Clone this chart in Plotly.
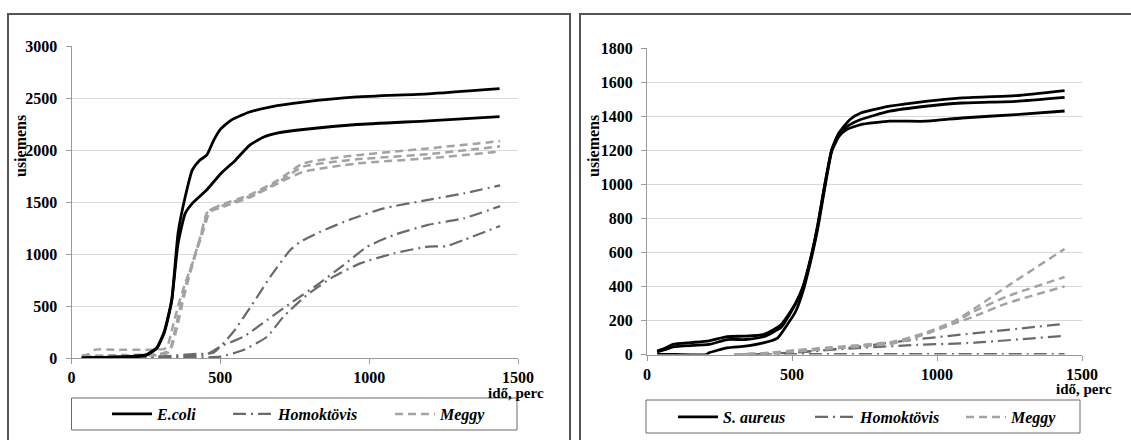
import plotly.graph_objects as go

W, H = 1131, 440

# ---------------- Left panel data (E.coli) ----------------
ecoli1_x = [34, 100, 200, 250, 262, 286, 310, 322, 337, 358, 382, 406, 430, 454, 478, 502, 538, 598, 670, 778, 958, 1198, 1438]
ecoli1_y = [0, 5, 15, 30, 48, 96, 240, 368, 560, 1200, 1550, 1810, 1900, 1950, 2095, 2205, 2290, 2365, 2415, 2460, 2510, 2540, 2590]
ecoli2_x = [34, 100, 200, 250, 262, 286, 310, 322, 337, 358, 382, 406, 454, 502, 550, 598, 646, 694, 778, 958, 1198, 1438]
ecoli2_y = [0, 5, 12, 25, 45, 90, 230, 355, 560, 1100, 1390, 1487, 1615, 1775, 1900, 2045, 2125, 2165, 2197, 2245, 2280, 2320]

homL1_x = [40, 150, 330, 420, 477, 544, 606, 668, 735, 769, 836, 937, 1049, 1198, 1318, 1440]
homL1_y = [10, 5, 20, 40, 50, 253, 510, 782, 1038, 1118, 1214, 1333, 1439, 1520, 1583, 1660]
homL2_x = [40, 200, 350, 450, 499, 578, 657, 735, 825, 914, 993, 1083, 1198, 1318, 1440]
homL2_y = [5, 5, 15, 30, 109, 205, 365, 526, 702, 894, 1070, 1183, 1280, 1343, 1460]
homL3_x = [40, 300, 450, 499, 578, 657, 712, 791, 880, 970, 1083, 1198, 1258, 1318, 1440]
homL3_y = [0, 0, 5, 13, 77, 205, 397, 606, 782, 910, 1006, 1071, 1075, 1135, 1270]

megL1_x = [35, 60, 80, 150, 250, 310, 322, 340, 358, 382, 406, 430, 454, 466, 500, 600, 694, 778, 958, 1198, 1440]
megL1_y = [20, 40, 80, 80, 80, 85, 110, 300, 500, 720, 910, 1135, 1390, 1420, 1470, 1570, 1710, 1870, 1950, 2015, 2085]
megL2_x = [35, 60, 100, 200, 300, 330, 350, 370, 390, 410, 435, 458, 470, 500, 600, 694, 778, 958, 1198, 1440]
megL2_y = [30, 20, 25, 30, 40, 80, 300, 550, 760, 950, 1180, 1400, 1430, 1460, 1555, 1690, 1840, 1910, 1960, 2035]
megL3_x = [40, 100, 200, 300, 330, 355, 375, 395, 415, 440, 462, 475, 500, 600, 694, 778, 958, 1198, 1440]
megL3_y = [10, 15, 20, 30, 60, 300, 560, 780, 980, 1200, 1390, 1420, 1445, 1545, 1680, 1790, 1870, 1920, 1985]

# ---------------- Right panel data (S. aureus) ----------------
sau1_x = [35, 65, 90, 152, 214, 276, 339, 401, 438, 463, 488, 513, 538, 563, 588, 612, 637, 662, 700, 737, 837, 961, 1086, 1272, 1440]
sau1_y = [20, 40, 60, 70, 80, 105, 108, 117, 147, 176, 235, 303, 400, 557, 753, 988, 1203, 1301, 1380, 1418, 1458, 1487, 1507, 1520, 1550]
sau2_x = [35, 65, 90, 214, 276, 339, 401, 463, 488, 513, 538, 563, 588, 612, 637, 662, 700, 737, 837, 961, 1086, 1272, 1440]
sau2_y = [15, 30, 45, 59, 88, 88, 104, 160, 225, 300, 395, 550, 750, 985, 1200, 1300, 1350, 1380, 1429, 1458, 1477, 1487, 1510]
sau3_x = [35, 100, 205, 214, 276, 339, 401, 451, 488, 513, 538, 563, 588, 612, 637, 662, 687, 737, 837, 961, 1086, 1272, 1440]
sau3_y = [0, 0, 0, 10, 39, 49, 68, 98, 186, 254, 372, 538, 733, 968, 1193, 1281, 1320, 1350, 1370, 1370, 1389, 1409, 1430]

homR1_x = [350, 500, 700, 929, 1125, 1440]
homR1_y = [0, 12, 40, 89, 124, 180]
homR2_x = [350, 500, 700, 929, 1125, 1440]
homR2_y = [0, 10, 35, 56, 69, 110]
homR3_x = [300, 500, 1000, 1440]
homR3_y = [0, 2, 2, 2]

megR1_x = [300, 420, 516, 666, 849, 953, 1056, 1148, 1240, 1440]
megR1_y = [0, 10, 26, 46, 75, 124, 193, 291, 398, 620]
megR2_x = [300, 420, 516, 666, 849, 953, 1056, 1125, 1240, 1440]
megR2_y = [0, 8, 22, 42, 70, 120, 185, 251, 340, 455]
megR3_x = [300, 420, 516, 666, 849, 953, 1056, 1125, 1240, 1440]
megR3_y = [0, 5, 18, 38, 65, 115, 180, 222, 300, 400]

xticks = [0, 500, 1000, 1500]
yticksL = [0, 500, 1000, 1500, 2000, 2500, 3000]
yticksR = [0, 200, 400, 600, 800, 1000, 1200, 1400, 1600, 1800]

SERIF = "Liberation Serif, Times New Roman, serif"
BLACK = "#000000"
HOM_C = "#6a6a6a"
MEG_C = "#a3a3a3"
HOM_DASH = "13px,5px,2px,5px"
MEG_DASH = "8px,5px"


def px(x):
    return x / W


def py(y):
    return 1 - y / H


fig = go.Figure()


def add(xs, ys, axis, color, width, dash, name, legend, show):
    fig.add_trace(go.Scatter(
        x=xs, y=ys, mode="lines", name=name,
        xaxis="x" if axis == 1 else "x2", yaxis="y" if axis == 1 else "y2",
        line=dict(color=color, width=width, dash=dash, shape="spline", smoothing=0.5),
        legend=legend, showlegend=show, hoverinfo="skip"))


# left
add(homL1_x, homL1_y, 1, HOM_C, 2.2, HOM_DASH, "Homoktövis", "legend2", True)
add(homL2_x, homL2_y, 1, HOM_C, 2.2, HOM_DASH, "Homoktövis", "legend2", False)
add(homL3_x, homL3_y, 1, HOM_C, 2.2, HOM_DASH, "Homoktövis", "legend2", False)
add(megL1_x, megL1_y, 1, MEG_C, 2.5, MEG_DASH, "Meggy", "legend3", True)
add(megL2_x, megL2_y, 1, MEG_C, 2.5, MEG_DASH, "Meggy", "legend3", False)
add(megL3_x, megL3_y, 1, MEG_C, 2.5, MEG_DASH, "Meggy", "legend3", False)
add(ecoli1_x, ecoli1_y, 1, BLACK, 2.8, "solid", "E.coli", "legend", True)
add(ecoli2_x, ecoli2_y, 1, BLACK, 2.8, "solid", "E.coli", "legend", False)
# right
add(homR1_x, homR1_y, 2, HOM_C, 2.2, HOM_DASH, "Homoktövis", "legend5", True)
add(homR2_x, homR2_y, 2, HOM_C, 2.2, HOM_DASH, "Homoktövis", "legend5", False)
add(homR3_x, homR3_y, 2, HOM_C, 2.2, HOM_DASH, "Homoktövis", "legend5", False)
add(megR1_x, megR1_y, 2, MEG_C, 2.5, MEG_DASH, "Meggy", "legend6", True)
add(megR2_x, megR2_y, 2, MEG_C, 2.5, MEG_DASH, "Meggy", "legend6", False)
add(megR3_x, megR3_y, 2, MEG_C, 2.5, MEG_DASH, "Meggy", "legend6", False)
add(sau1_x, sau1_y, 2, BLACK, 2.8, "solid", "S. aureus", "legend4", True)
add(sau2_x, sau2_y, 2, BLACK, 2.8, "solid", "S. aureus", "legend4", False)
add(sau3_x, sau3_y, 2, BLACK, 2.8, "solid", "S. aureus", "legend4", False)

tickfont = dict(family=SERIF, size=16, color="#000", weight="bold")
axcommon = dict(showline=True, linecolor="#9a9a9a", linewidth=1, ticks="outside",
                ticklen=5, tickcolor="#9a9a9a", tickfont=tickfont, zeroline=False,
                automargin=False)

L_x0, L_x1 = 71.5, 518
L_y0, L_y1 = 358, 46
R_x0, R_x1 = 647, 1082
R_y0, R_y1 = 354.5, 48

fig.update_layout(
    template="none",
    width=W, height=H, margin=dict(l=0, r=0, t=0, b=0, pad=0, autoexpand=False),
    paper_bgcolor="white", plot_bgcolor="white",
    xaxis=dict(domain=[px(L_x0), px(L_x1)], range=[0, 1500], tickvals=xticks,
               showgrid=False, anchor="y", ticklabelstandoff=0, **axcommon),
    yaxis=dict(domain=[py(L_y0), py(L_y1)], range=[0, 3000], tickvals=yticksL,
               showgrid=True, gridcolor="#d9d9d9", gridwidth=1, anchor="x",
               ticklabelstandoff=5, **axcommon),
    xaxis2=dict(domain=[px(R_x0), px(R_x1)], range=[0, 1500], tickvals=xticks,
                showgrid=False, anchor="y2", ticklabelstandoff=0, **axcommon),
    yaxis2=dict(domain=[py(R_y0), py(R_y1)], range=[0, 1800], tickvals=yticksR,
                showgrid=True, gridcolor="#d9d9d9", gridwidth=1, anchor="x2",
                ticklabelstandoff=5, **axcommon),
)

legfont = dict(family=SERIF, size=16, color="#000", weight="bold", style="italic")


def leg(xp, yp):
    return dict(x=px(xp - 5), y=py(yp), xanchor="left", yanchor="middle",
                orientation="h", font=legfont, bgcolor="rgba(0,0,0,0)",
                borderwidth=0, itemwidth=40)


fig.update_layout(
    legend=leg(112, 414), legend2=leg(233, 414), legend3=leg(395, 414),
    legend4=leg(678, 417), legend5=leg(815, 417), legend6=leg(966, 417),
)

shapes = [
    # panel borders
    dict(type="rect", xref="paper", yref="paper", x0=px(8), x1=px(570), y0=py(470), y1=py(14),
         line=dict(color="#555555", width=2)),
    dict(type="rect", xref="paper", yref="paper", x0=px(580), x1=px(1145), y0=py(470), y1=py(14),
         line=dict(color="#555555", width=2)),
    # legend boxes
    dict(type="rect", xref="paper", yref="paper", x0=px(71.5), x1=px(517), y0=py(430), y1=py(398),
         line=dict(color="#6a6a6a", width=1)),
    dict(type="rect", xref="paper", yref="paper", x0=px(646), x1=px(1080), y0=py(433), y1=py(400),
         line=dict(color="#6a6a6a", width=1)),
]
fig.update_layout(shapes=shapes)

titlefont = dict(family=SERIF, size=16, color="#000", weight="bold")
xtitlefont = dict(family=SERIF, size=15, color="#000", weight="bold")
annotations = [
    dict(text="usiemens", x=px(20), y=py(146), xref="paper", yref="paper", textangle=-90,
         showarrow=False, font=titlefont, xanchor="center", yanchor="middle"),
    dict(text="usiemens", x=px(593), y=py(146), xref="paper", yref="paper", textangle=-90,
         showarrow=False, font=titlefont, xanchor="center", yanchor="middle"),
    dict(text="idő, perc", x=px(546), y=py(393), xref="paper", yref="paper",
         showarrow=False, font=xtitlefont, xanchor="right", yanchor="middle"),
    dict(text="idő, perc", x=px(1114), y=py(389), xref="paper", yref="paper",
         showarrow=False, font=xtitlefont, xanchor="right", yanchor="middle"),
]
fig.update_layout(annotations=annotations)

fig.write_html("out.html", config={"displayModeBar": False},
               post_script="document.body.style.margin='0';document.body.style.padding='0';")
